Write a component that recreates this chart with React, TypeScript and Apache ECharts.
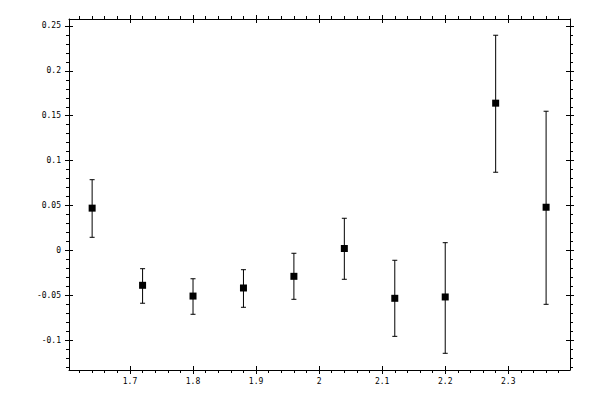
import React, { useRef, useEffect } from 'react';
import * as echarts from 'echarts';

// bin centres and measured values with their error limits
const xValues = [1.64, 1.72, 1.8, 1.88, 1.96, 2.04, 2.12, 2.2, 2.28, 2.36];
const yValues = [0.047, -0.039, -0.051, -0.042, -0.029, 0.002, -0.0535, -0.052, 0.164, 0.048];
const yLow = [0.0145, -0.059, -0.0713, -0.0635, -0.0546, -0.0323, -0.0959, -0.1148, 0.087, -0.0602];
const yHigh = [0.0787, -0.0205, -0.0317, -0.0216, -0.0033, 0.0357, -0.0111, 0.0085, 0.2397, 0.155];

// tick positions
const xMajorTicks = [1.7, 1.8, 1.9, 2, 2.1, 2.2, 2.3];
const xMinorTicks = [
  1.62, 1.64, 1.66, 1.68, 1.72, 1.74, 1.76, 1.78, 1.82, 1.84, 1.86, 1.88,
  1.92, 1.94, 1.96, 1.98, 2.02, 2.04, 2.06, 2.08, 2.12, 2.14, 2.16, 2.18,
  2.22, 2.24, 2.26, 2.28, 2.32, 2.34, 2.36, 2.38,
];
const yMajorTicks = [-0.1, -0.05, 0, 0.05, 0.1, 0.15, 0.2, 0.25];
const yMinorTicks = [
  -0.13, -0.12, -0.11, -0.09, -0.08, -0.07, -0.06, -0.04, -0.03, -0.02, -0.01,
  0.01, 0.02, 0.03, 0.04, 0.06, 0.07, 0.08, 0.09, 0.11, 0.12, 0.13, 0.14,
  0.16, 0.17, 0.18, 0.19, 0.21, 0.22, 0.23, 0.24,
];

const X_MIN = 1.6033;
const X_MAX = 2.3979;
const Y_MIN = -0.1334;
const Y_MAX = 0.2578;

const FONT = 'DejaVu Sans Mono';

const tickAxis = (
  kind: 'x' | 'y',
  position: string,
  values: number[],
  inside: boolean,
  length: number,
  withLine: boolean,
  withLabels: boolean,
) => ({
  type: 'value',
  gridIndex: 0,
  position,
  min: kind === 'x' ? X_MIN : Y_MIN,
  max: kind === 'x' ? X_MAX : Y_MAX,
  splitLine: { show: false },
  axisLine: { show: withLine, onZero: false, lineStyle: { color: '#000', width: 1 } },
  axisTick: {
    show: true,
    inside,
    length,
    customValues: values,
    lineStyle: { color: '#000', width: 1 },
  },
  axisLabel: {
    show: withLabels,
    customValues: values,
    margin: kind === 'x' ? 7 : 8,
    color: '#000',
    fontFamily: FONT,
    fontSize: 8,
    showMinLabel: true,
    showMaxLabel: true,
  },
});

export default function App() {
  const chartRef = useRef<HTMLDivElement>(null);

  useEffect(() => {
    if (!chartRef.current) return;
    const chart = echarts.init(chartRef.current, undefined, { renderer: 'svg' });

    const option: any = {
      animation: false,
      backgroundColor: '#fff',
      grid: { left: 69, right: 30, top: 19, bottom: 30, containLabel: false },
      xAxis: [
        tickAxis('x', 'bottom', xMajorTicks, false, 4, true, true),
        tickAxis('x', 'bottom', xMajorTicks, true, 4, false, false),
        tickAxis('x', 'bottom', xMinorTicks, false, 3, false, false),
        tickAxis('x', 'top', xMajorTicks, false, 4, true, false),
        tickAxis('x', 'top', xMajorTicks, true, 4, false, false),
        tickAxis('x', 'top', xMinorTicks, false, 3, false, false),
      ],
      yAxis: [
        tickAxis('y', 'left', yMajorTicks, false, 4, true, true),
        tickAxis('y', 'left', yMajorTicks, true, 4, false, false),
        tickAxis('y', 'left', yMinorTicks, false, 3, false, false),
        tickAxis('y', 'right', yMajorTicks, false, 4, true, false),
        tickAxis('y', 'right', yMajorTicks, true, 4, false, false),
        tickAxis('y', 'right', yMinorTicks, false, 3, false, false),
      ],
      series: [
        {
          type: 'custom',
          xAxisIndex: 0,
          yAxisIndex: 0,
          data: xValues.map((x, i) => [x, yLow[i], yHigh[i]]),
          renderItem: (params: any, api: any) => {
            const low = api.coord([api.value(0), api.value(1)]);
            const high = api.coord([api.value(0), api.value(2)]);
            const half = 2.5;
            const style = { stroke: '#000', lineWidth: 1 };
            return {
              type: 'group',
              children: [
                { type: 'line', shape: { x1: low[0], y1: low[1], x2: high[0], y2: high[1] }, style },
                { type: 'line', shape: { x1: low[0] - half, y1: low[1], x2: low[0] + half, y2: low[1] }, style },
                { type: 'line', shape: { x1: high[0] - half, y1: high[1], x2: high[0] + half, y2: high[1] }, style },
              ],
            };
          },
          z: 2,
        },
        {
          type: 'scatter',
          xAxisIndex: 0,
          yAxisIndex: 0,
          symbol: 'rect',
          symbolSize: 7,
          itemStyle: { color: '#000', opacity: 1 },
          data: xValues.map((x, i) => [x, yValues[i]]),
          z: 3,
        },
      ],
    };

    chart.setOption(option);
    return () => chart.dispose();
  }, []);

  return (
    <div
      ref={chartRef}
      style={{ position: 'fixed', left: 0, top: 0, width: 600, height: 400, background: '#fff' }}
    />
  );
}
